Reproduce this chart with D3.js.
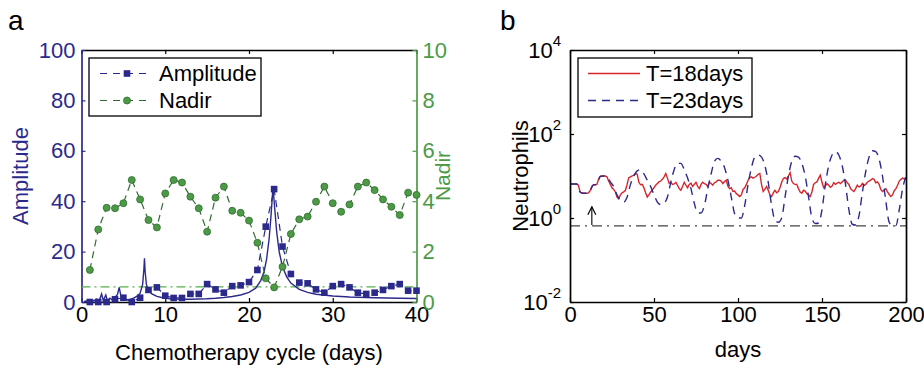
<!DOCTYPE html>
<html><head><meta charset="utf-8">
<script src="https://cdn.jsdelivr.net/npm/d3@7"></script>
<style>
body{margin:0;background:#fff;}
svg{display:block;font-family:"Liberation Sans",Arial,Helvetica,sans-serif;}
</style></head><body>
<svg id="c" width="924" height="368"></svg>
<script>
// ---------- Panel a data ----------
const cycleDays = [1,2,3,4,5,6,7,8,9,10,11,12,13,14,15,16,17,18,19,20,21,22,23,24,25,26,27,28,29,30,31,32,33,34,35,36,37,38,39,40];
const amplitude = [0,0,0,1.1,1.7,0,1.7,4.8,5.8,2.5,1.6,1.6,3.2,3.2,7.1,5.0,3.7,6.3,6.6,7.9,12.7,29.9,44.8,22,11.1,7.7,7.4,5.0,3.7,6.3,7.1,5.8,3.7,3.2,3.7,4.8,6.3,7.1,4.5,4.5];
const nadir = [1.27,2.88,3.74,3.72,3.92,4.84,4.07,3.25,2.96,4.31,4.84,4.74,4.18,3.72,2.79,4.14,4.58,3.62,3.54,3.23,2.35,0.94,0.58,1.40,2.70,3.28,3.39,3.98,4.58,3.92,3.58,3.87,4.58,4.74,4.44,4.07,3.78,3.45,4.34,4.25];
const nadirThreshold = 0.6;
// continuous amplitude curve (solid line)
const curveX = [0.3,0.8,1.3,1.8,2.1,2.4,2.6,2.9,3.1,3.4,3.7,4.0,4.3,4.5,4.7,5.0,5.4,5.8,6.2,6.6,7.0,7.3,7.45,7.52,7.6,7.75,8.0,8.4,9,10,11,12,13,14,15,16,17,18,19,20,20.8,21.4,21.8,22.1,22.4,22.6,22.75,22.85,22.95,23.1,23.3,23.6,24,24.5,25,26,27,28,30,32,35,38,40];
const curveY = [0.2,0.5,0.3,1.2,0.4,3.2,0.6,2.8,0.5,1.5,0.8,1.8,3.0,5.8,2.5,1.2,0.8,1.0,1.5,2.2,3.5,7,13,17.3,12,7,4.5,3.2,2.2,1.5,1.2,1.1,1.1,1.2,1.3,1.5,1.8,2.2,2.8,3.8,5.5,8.5,12,17,25,33,40,45,42,36,28,20,14,10,7.5,5,3.8,3.1,2.4,2.0,1.7,1.5,1.4];
const xTicksA = [0,10,20,30,40];
const ampTicks = [0,20,40,60,80,100];
const nadTicks = [0,2,4,6,8,10];

// ---------- Panel b data ----------
const daysRed = d3.range(0,201); // day index 0..200
const red18 = [6.46,6.46,6.46,6.46,6.46,6.03,4.17,3.89,3.89,3.89,3.89,3.98,4.47,5.75,6.17,6.17,6.31,8.32,9.77,10,10,10,9.55,7.59,6.31,5.25,4.79,4.17,3.16,2.88,3.55,3.98,4.17,4.57,6.31,9.12,9.55,10,10.5,11.5,11.0,7.08,6.17,6.31,5.25,3.98,3.16,3.55,4.17,4.68,5.25,6.03,6.61,7.24,7.59,8.32,9.55,11.5,8.91,6.76,7.08,6.31,6.46,7.08,6.03,5.01,4.57,5.62,7.08,6.03,5.25,6.31,6.76,5.62,6.31,7.08,5.62,5.01,6.31,7.08,6.61,6.31,5.62,7.08,6.61,6.03,6.92,7.24,7.94,7.94,7.59,6.61,7.41,7.94,5.75,5.01,5.25,4.27,4.37,3.80,3.55,3.24,3.55,4.79,5.25,6.31,7.94,9.12,9.55,8.91,9.33,10,11.0,11.5,6.31,4.27,4.79,5.62,4.57,3.55,3.24,3.98,4.57,3.98,4.27,5.25,7.08,8.71,9.12,8.51,10,12.0,7.59,6.61,6.31,6.31,5.01,4.17,3.89,4.57,4.37,3.80,3.55,3.24,4.17,6.31,6.92,7.24,8.91,10.5,7.08,5.25,5.75,6.61,6.03,5.37,5.75,6.92,6.31,6.76,7.08,6.61,7.24,7.94,7.94,6.92,6.31,5.01,4.57,4.27,5.01,6.03,5.50,5.75,6.61,5.89,6.31,7.08,7.59,7.94,8.71,8.32,6.92,7.24,6.31,4.79,4.27,4.57,5.01,4.17,3.63,3.24,3.55,4.47,5.01,6.03,7.59,8.32,8.91,8.51,8.71];
const daysBlue = [0,2,4,6,8,10,12,14,16,18,20,22,24,26,28,30,32,34,36,38,40,42,44,46,48,50,52,54,56,58,60,62,64,66,68,70,72,74,76,78,80,82,84,86,88,90,92,94,96,98,100,102,104,106,108,110,112,114,116,118,120,122,124,126,128,130,132,134,136,138,140,142,144,146,148,150,152,154,156,158,160,162,164,166,168,170,172,174,176,178,180,182,184,186,188,190,192,194,196,198,200];
const blue23 = [6.46,6.46,6.46,4.17,3.89,3.89,4.47,6.17,6.31,9.77,10,9.55,7.24,5.62,3.55,2.63,2.40,3.16,6.31,10,13.2,14.1,11.2,7.94,5.62,3.55,2.40,2.09,2.24,3.16,7.08,14.1,20.0,20.0,14.1,8.91,5.01,2.24,1.32,1.32,2.0,5.01,11.2,22.4,26.3,22.4,15.8,7.94,3.16,1.26,1.0,1.0,2.0,6.31,15.8,28.2,31.6,28.2,17.8,7.08,2.0,0.89,0.79,1.0,3.16,10,22.4,29.5,28.2,20.0,10,3.16,1.0,0.74,0.76,1.58,6.31,17.8,31.6,38.0,31.6,17.8,6.31,1.58,0.71,0.68,1.12,3.98,12.6,28.2,39.8,38.0,25.1,10,2.51,0.79,0.65,0.66,1.58,5.01,10];
const threshold = 0.65;
const arrowDay = 13, arrowFrom = 0.68, arrowTo = 1.85;
const xTicksB = [0,50,100,150,200];
const yTicksB = [1e-2,1e0,1e2,1e4];
const legendA = ["Amplitude","Nadir"];
const legendB = ["T=18days","T=23days"];

// ---------- drawing ----------
const svg = d3.select("#c");
const FONT = 22;
const navy = "#2b2a8c", green = "#4d9a46", greenDark = "#2f6d2f", red = "#d5262d";

function styleAxis(g, color){
  g.attr("font-family", null).attr("font-size", null);
  g.select(".domain").attr("stroke", color).attr("stroke-width", 1.7);
  g.selectAll(".tick line").attr("stroke", color).attr("stroke-width", 1.2);
  g.selectAll(".tick text").attr("fill", color).attr("font-size", FONT);
}

// Panel a
const A = {l:81.5, r:416.5, t:50, b:302};
const xA = d3.scaleLinear().domain([0,40]).range([A.l, A.r]);
const yAmp = d3.scaleLinear().domain([0,100]).range([A.b, A.t]);
const yNad = d3.scaleLinear().domain([0,10]).range([A.b, A.t]);

const gA = svg.append("g");
gA.append("g").attr("transform",`translate(0,${A.t})`)
  .call(d3.axisTop(xA).tickValues(xTicksA).tickSizeInner(-4).tickSizeOuter(0).tickFormat(""))
  .call(g=>styleAxis(g,"#000"));
gA.append("g").attr("transform",`translate(0,${A.b})`)
  .call(d3.axisBottom(xA).tickValues(xTicksA).tickSizeInner(-4).tickSizeOuter(0).tickPadding(4))
  .call(g=>styleAxis(g,"#000"));
gA.append("g").attr("transform",`translate(${A.l},0)`)
  .call(d3.axisLeft(yAmp).tickValues(ampTicks).tickSizeInner(-4).tickSizeOuter(0).tickPadding(6))
  .call(g=>styleAxis(g,navy));
gA.append("g").attr("transform",`translate(${A.r},0)`)
  .call(d3.axisRight(yNad).tickValues(nadTicks).tickSizeInner(-4).tickSizeOuter(0).tickPadding(6))
  .call(g=>styleAxis(g,green));

// threshold (green dash-dot)
gA.append("line").attr("x1",xA(0)).attr("x2",xA(40)).attr("y1",yNad(nadirThreshold)).attr("y2",yNad(nadirThreshold))
  .attr("stroke","#55b04a").attr("stroke-width",1.3).attr("stroke-dasharray","9,4,2,4");

// solid curve
const curvePts = curveX.map((x,i)=>[x,curveY[i]]);
gA.append("path").datum(curvePts)
  .attr("d", d3.line().x(d=>xA(d[0])).y(d=>yAmp(d[1])))
  .attr("fill","none").attr("stroke",navy).attr("stroke-width",1.4);

// nadir dashed + circles
gA.append("path").datum(cycleDays.map((x,i)=>[x,nadir[i]]))
  .attr("d", d3.line().x(d=>xA(d[0])).y(d=>yNad(d[1])))
  .attr("fill","none").attr("stroke",greenDark).attr("stroke-width",1.2).attr("stroke-dasharray","7,5");
gA.selectAll("circle.nad").data(cycleDays).enter().append("circle")
  .attr("cx",(d)=>xA(d)).attr("cy",(d,i)=>yNad(nadir[i])).attr("r",3.5)
  .attr("fill",green).attr("stroke",greenDark).attr("stroke-width",0.8);

// amplitude dashed + squares
gA.append("path").datum(cycleDays.map((x,i)=>[x,amplitude[i]]))
  .attr("d", d3.line().x(d=>xA(d[0])).y(d=>yAmp(d[1])))
  .attr("fill","none").attr("stroke",navy).attr("stroke-width",1.2).attr("stroke-dasharray","7,5");
gA.selectAll("rect.amp").data(cycleDays).enter().append("rect")
  .attr("x",d=>xA(d)-3.3).attr("y",(d,i)=>yAmp(amplitude[i])-3.3).attr("width",6.6).attr("height",6.6)
  .attr("fill",navy);

// legend a
const LA = gA.append("g");
LA.append("rect").attr("x",89).attr("y",58).attr("width",172).attr("height",58)
  .attr("fill","#fff").attr("stroke","#000").attr("stroke-width",1.3);
[[navy,"sq"],[greenDark,"ci"]].forEach((s,i)=>{
  const y = 73.5 + i*27;
  LA.append("line").attr("x1",100).attr("x2",152).attr("y1",y).attr("y2",y)
    .attr("stroke",s[0]).attr("stroke-width",1.2).attr("stroke-dasharray","7,6");
  if(s[1]==="sq") LA.append("rect").attr("x",123.7).attr("y",y-3.3).attr("width",6.6).attr("height",6.6).attr("fill",navy);
  else LA.append("circle").attr("cx",127).attr("cy",y).attr("r",3.5).attr("fill",green).attr("stroke",greenDark).attr("stroke-width",0.8);
  LA.append("text").attr("x",159).attr("y",y).attr("dy","0.36em").attr("font-size",FONT).text(legendA[i]);
});

// axis titles a
svg.append("text").attr("transform","translate(28,176) rotate(-90)").attr("text-anchor","middle")
  .attr("font-size",FONT).attr("fill",navy).text("Amplitude");
svg.append("text").attr("transform","translate(450,176) rotate(-90)").attr("text-anchor","middle")
  .attr("font-size",21).attr("fill",green).text("Nadir");
svg.append("text").attr("x",249).attr("y",360).attr("text-anchor","middle").attr("font-size",FONT).text("Chemotherapy cycle (days)");
svg.append("text").attr("x",8).attr("y",30).attr("font-size",28).text("a");

// Panel b
const B = {l:570, r:906, t:50, b:302};
const xB = d3.scaleLinear().domain([0,200]).range([B.l, B.r]);
const yB = d3.scaleLog().domain([1e-2,1e4]).range([B.b, B.t]);
const gB = svg.append("g");

gB.append("line").attr("x1",xB(0)).attr("x2",xB(200)).attr("y1",yB(threshold)).attr("y2",yB(threshold))
  .attr("stroke","#444").attr("stroke-width",1.3).attr("stroke-dasharray","10,5,2,5");

gB.append("path").datum(daysRed.map((d,i)=>[d,red18[i]]))
  .attr("d", d3.line().x(d=>xB(d[0])).y(d=>yB(d[1])))
  .attr("fill","none").attr("stroke",red).attr("stroke-width",1.4);
gB.append("path").datum(daysBlue.map((d,i)=>[d,blue23[i]]))
  .attr("d", d3.line().curve(d3.curveMonotoneX).x(d=>xB(d[0])).y(d=>yB(d[1])))
  .attr("fill","none").attr("stroke",navy).attr("stroke-width",1.4).attr("stroke-dasharray","8,6");

// arrow
svg.append("defs").append("marker").attr("id","ah").attr("viewBox","0 0 10 10").attr("refX",9).attr("refY",5)
  .attr("markerWidth",9).attr("markerHeight",9).attr("orient","auto")
  .append("path").attr("d","M1,1 L9,5 L1,9").attr("fill","none").attr("stroke","#000").attr("stroke-width",1.2);
gB.append("line").attr("x1",xB(arrowDay)).attr("x2",xB(arrowDay)).attr("y1",yB(arrowFrom)).attr("y2",yB(arrowTo))
  .attr("stroke","#000").attr("stroke-width",1.1).attr("marker-end","url(#ah)");

gB.append("g").attr("transform",`translate(0,${B.t})`)
  .call(d3.axisTop(xB).tickValues(xTicksB).tickSizeInner(-4).tickSizeOuter(0).tickFormat(""))
  .call(g=>styleAxis(g,"#000"));
gB.append("g").attr("transform",`translate(0,${B.b})`)
  .call(d3.axisBottom(xB).tickValues(xTicksB).tickSizeInner(-4).tickSizeOuter(0).tickPadding(4))
  .call(g=>styleAxis(g,"#000"));
gB.append("g").attr("transform",`translate(${B.r},0)`)
  .call(d3.axisRight(yB).tickValues(yTicksB).tickSizeInner(-4).tickSizeOuter(0).tickFormat(""))
  .call(g=>styleAxis(g,"#000"));
const yAxB = gB.append("g").attr("transform",`translate(${B.l},0)`)
  .call(d3.axisLeft(yB).tickValues(yTicksB).tickSizeInner(-4).tickSizeOuter(0).tickPadding(9))
  .call(g=>styleAxis(g,"#000"));
yAxB.selectAll(".tick text").each(function(d){
  const t = d3.select(this); t.text(null);
  t.append("tspan").text("10");
  t.append("tspan").attr("dy","-0.75em").attr("font-size",15).text(String(Math.round(Math.log10(d))));
});

// legend b
const LB = gB.append("g");
LB.append("rect").attr("x",578).attr("y",58).attr("width",174).attr("height",59)
  .attr("fill","#fff").attr("stroke","#000").attr("stroke-width",1.3);
[[red,null],[navy,"8,6"]].forEach((s,i)=>{
  const y = 73.5 + i*27;
  LB.append("line").attr("x1",588).attr("x2",640).attr("y1",y).attr("y2",y)
    .attr("stroke",s[0]).attr("stroke-width",1.4).attr("stroke-dasharray",s[1]);
  LB.append("text").attr("x",646).attr("y",y).attr("dy","0.36em").attr("font-size",FONT).text(legendB[i]);
});

svg.append("text").attr("transform","translate(528,176) rotate(-90)").attr("text-anchor","middle")
  .attr("font-size",FONT).text("Neutrophils");
svg.append("text").attr("x",738).attr("y",357).attr("text-anchor","middle").attr("font-size",FONT).text("days");
svg.append("text").attr("x",500).attr("y",30).attr("font-size",28).text("b");
</script>
</body></html>
